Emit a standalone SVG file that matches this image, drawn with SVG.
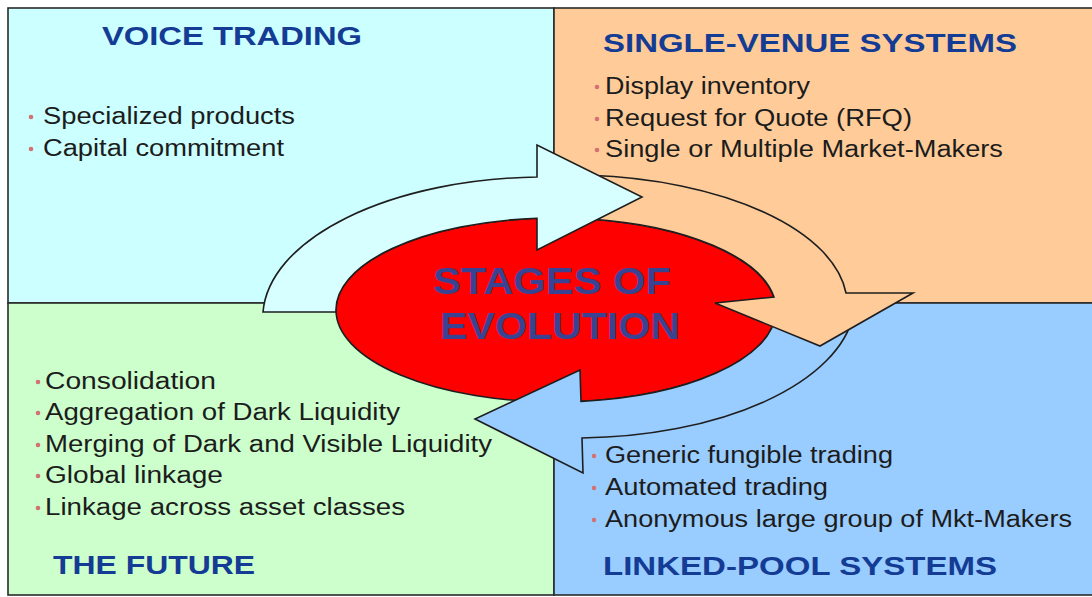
<svg xmlns="http://www.w3.org/2000/svg" width="1092" height="597" viewBox="0 0 1092 597">
<style>
.quad{stroke:#2a2a2a;stroke-width:1.6}
.title{font-family:"Liberation Sans",Arial,sans-serif;font-weight:bold;font-size:26px;fill:#143c94}
.item{font-family:"Liberation Sans",Arial,sans-serif;font-size:23px;fill:#1c1c1c}
.dot{fill:#d27272}
.arrow{stroke:#1e1e1e;stroke-width:1.6;stroke-linejoin:miter}
.center{font-family:"Liberation Sans",Arial,sans-serif;font-weight:bold;font-size:37px;fill:#3a4391}
</style>
<rect x="0" y="0" width="1092" height="597" fill="#ffffff"/>

<g id="voice-trading">
<rect class="quad" x="8" y="8" width="546" height="295" fill="#ccffff"/>
<text class="title" x="102" y="45" textLength="260" lengthAdjust="spacingAndGlyphs">VOICE TRADING</text>
<circle class="dot" cx="31" cy="117" r="2.3"/>
<text class="item" x="43" y="124" textLength="252" lengthAdjust="spacingAndGlyphs">Specialized products</text>
<circle class="dot" cx="31" cy="149" r="2.3"/>
<text class="item" x="43" y="156" textLength="241" lengthAdjust="spacingAndGlyphs">Capital commitment</text>
</g>

<g id="single-venue-systems">
<rect class="quad" x="554" y="8" width="540" height="295" fill="#ffcc99"/>
<text class="title" x="603" y="52" textLength="414" lengthAdjust="spacingAndGlyphs">SINGLE-VENUE SYSTEMS</text>
<circle class="dot" cx="597" cy="87" r="2.3"/>
<text class="item" x="605" y="94" textLength="205" lengthAdjust="spacingAndGlyphs">Display inventory</text>
<circle class="dot" cx="597" cy="119" r="2.3"/>
<text class="item" x="605" y="126" textLength="307" lengthAdjust="spacingAndGlyphs">Request for Quote (RFQ)</text>
<circle class="dot" cx="597" cy="150" r="2.3"/>
<text class="item" x="605" y="157" textLength="398" lengthAdjust="spacingAndGlyphs">Single or Multiple Market-Makers</text>
</g>

<g id="the-future">
<rect class="quad" x="8" y="303" width="546" height="292" fill="#ccffcc"/>
<circle class="dot" cx="38" cy="382" r="2.3"/>
<text class="item" x="45" y="389" textLength="171" lengthAdjust="spacingAndGlyphs">Consolidation</text>
<circle class="dot" cx="38" cy="413" r="2.3"/>
<text class="item" x="45" y="420" textLength="355" lengthAdjust="spacingAndGlyphs">Aggregation of Dark Liquidity</text>
<circle class="dot" cx="38" cy="445" r="2.3"/>
<text class="item" x="45" y="452" textLength="447" lengthAdjust="spacingAndGlyphs">Merging of Dark and Visible Liquidity</text>
<circle class="dot" cx="38" cy="476" r="2.3"/>
<text class="item" x="45" y="483" textLength="178" lengthAdjust="spacingAndGlyphs">Global linkage</text>
<circle class="dot" cx="38" cy="508" r="2.3"/>
<text class="item" x="45" y="515" textLength="360" lengthAdjust="spacingAndGlyphs">Linkage across asset classes</text>
<text class="title" x="53" y="574" textLength="202" lengthAdjust="spacingAndGlyphs">THE FUTURE</text>
</g>

<g id="linked-pool-systems">
<rect class="quad" x="554" y="303" width="540" height="292" fill="#99ccff"/>
<circle class="dot" cx="594" cy="456" r="2.3"/>
<text class="item" x="605" y="463" textLength="288" lengthAdjust="spacingAndGlyphs">Generic fungible trading</text>
<circle class="dot" cx="594" cy="488" r="2.3"/>
<text class="item" x="605" y="495" textLength="223" lengthAdjust="spacingAndGlyphs">Automated trading</text>
<circle class="dot" cx="594" cy="520" r="2.3"/>
<text class="item" x="605" y="527" textLength="467" lengthAdjust="spacingAndGlyphs">Anonymous large group of Mkt-Makers</text>
<text class="title" x="603" y="575" textLength="394" lengthAdjust="spacingAndGlyphs">LINKED-POOL SYSTEMS</text>
</g>

<g id="stages-of-evolution">
<ellipse cx="556" cy="310" rx="220" ry="92" fill="#ff0000" stroke="#1e1e1e" stroke-width="1.6"/>
<text class="center" x="433" y="294" textLength="238" lengthAdjust="spacingAndGlyphs">STAGES OF</text>
<text class="center" x="440" y="339" textLength="240" lengthAdjust="spacingAndGlyphs">EVOLUTION</text>
</g>

<g id="connectors">
<path id="arrow-linked-to-future" class="arrow" fill="#99ccff" d="M 853.3 315 A 280 138 0 0 1 582 438 L 583 473 L 475 419 L 580 370 L 581 401.4 A 220 92 0 0 0 775.7 315 Z"/>
<path id="arrow-single-to-linked" class="arrow" fill="#ffcc99" d="M 590 175.3 A 278 130 0 0 1 846 293 L 913 293 L 820 346 L 715 303 L 774 297 A 220 92 0 0 0 590 219 Z"/>
<path id="arrow-voice-to-single" class="arrow" fill="#d8ffff" d="M 336 312 L 263 312 A 283 141 0 0 1 537 177 L 537 145 L 642 197 L 537 250 L 537 218.3 A 220 92 0 0 0 336 312 Z"/>
</g>
</svg>
